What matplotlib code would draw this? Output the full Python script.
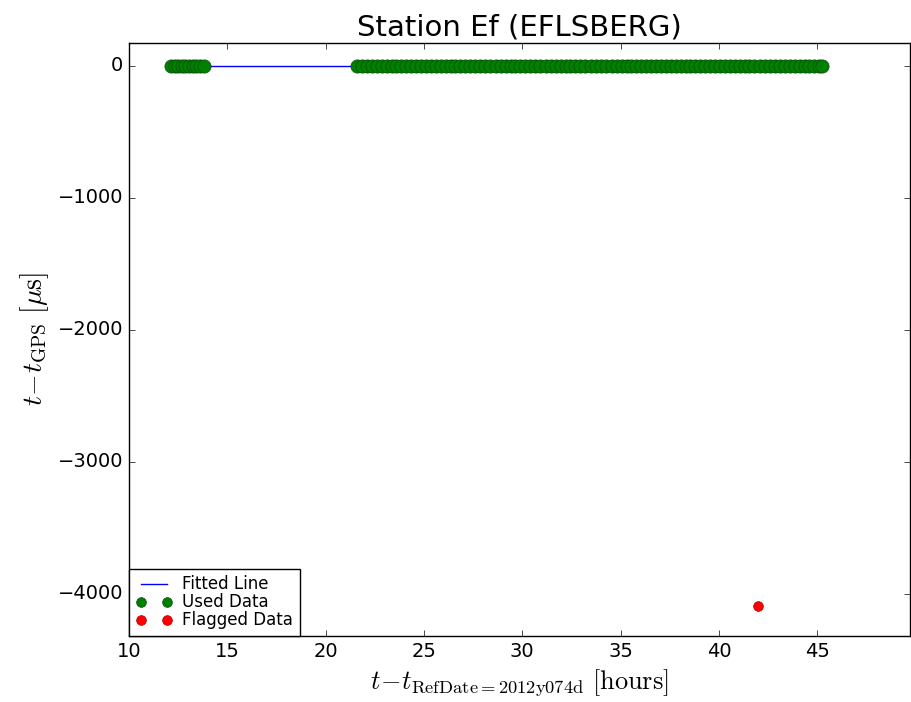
import matplotlib
matplotlib.use("Agg")
import matplotlib.pyplot as plt

plt.style.use("classic")

# hours since reference date, clock offset in microseconds
used_t = [12.15, 12.33, 12.51, 12.69, 12.87, 13.05, 13.23, 13.41, 13.59, 13.80,
          21.60, 21.85, 22.10, 22.35, 22.60, 22.85, 23.10, 23.35, 23.60, 23.85,
          24.10, 24.35, 24.60, 24.85, 25.10, 25.35, 25.60, 25.85, 26.10, 26.35,
          26.60, 26.85, 27.10, 27.35, 27.60, 27.85, 28.10, 28.35, 28.65, 28.90,
          29.15, 29.40, 29.65, 29.90, 30.15, 30.40, 30.65, 30.90, 31.20, 31.45,
          31.70, 31.95, 32.20, 32.45, 32.70, 32.95, 33.20, 33.50, 33.75, 34.00,
          34.25, 34.55, 34.80, 35.05, 35.30, 35.55, 35.80, 36.05, 36.30, 36.55,
          36.80, 37.05, 37.30, 37.55, 37.80, 38.05, 38.30, 38.55, 38.80, 39.05,
          39.30, 39.55, 39.80, 40.05, 40.30, 40.55, 40.80, 41.05, 41.30, 41.55,
          41.80, 42.10, 42.35, 42.60, 42.85, 43.10, 43.35, 43.60, 43.85, 44.10,
          44.35, 44.60, 44.85, 45.10, 45.25]
used_y = [0.0] * len(used_t)

flag_t = [42.0]
flag_y = [-4090.0]

fit_t = [12.15, 45.25]
fit_y = [0.0, 0.0]

fig = plt.figure(figsize=(9.11, 7.02), dpi=100, facecolor="white")
ax = fig.add_axes([0.1416, 0.094, 0.857, 0.845])

ax.plot(fit_t, fit_y, "b-", label="Fitted Line")
ax.plot(used_t, used_y, "o", color="green", mec="#0a4a0a", ms=9.5,
        label="Used Data")
ax.plot(flag_t, flag_y, "o", color="red", mec="#b00000", ms=7,
        label="Flagged Data")

ax.set_xlim(10, 49.7)
ax.set_ylim(-4320, 174)
ax.set_xticks([10, 15, 20, 25, 30, 35, 40, 45])
ax.set_yticks([0, -1000, -2000, -3000, -4000])
ax.tick_params(labelsize=14)

ax.set_title("Station Ef (EFLSBERG)", fontsize=21)
ax.set_xlabel(r"$t\!-\!t_{\rm RefDate=2012y074d}\ [{\rm hours}]$", fontsize=19)
ax.set_ylabel(r"$t\!-\!t_{\rm GPS}\ [\mu{\rm s}]$", fontsize=20)

leg = ax.legend(loc="lower left", numpoints=2, fontsize=12,
                borderaxespad=0, handletextpad=0.6, labelspacing=0.0,
                handlelength=2.2)
leg.get_frame().set_linewidth(1)
for h in leg.legend_handles[1:]:
    h.set_markersize(7)

fig.savefig("out.png", dpi=100, facecolor="white")
